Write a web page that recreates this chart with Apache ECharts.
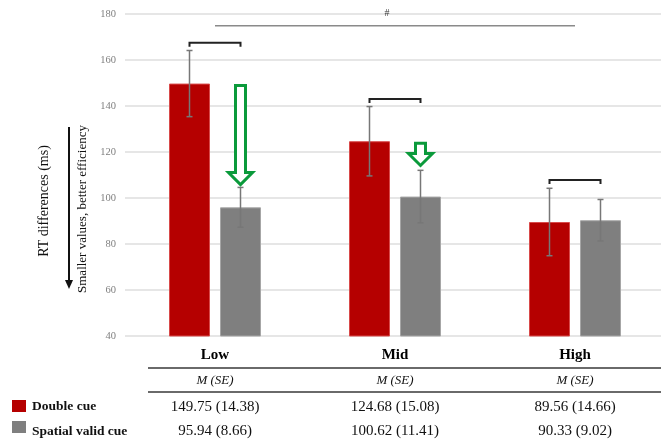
<!DOCTYPE html>
<html><head><meta charset="utf-8">
<script src="https://cdn.jsdelivr.net/npm/echarts@6/dist/echarts.min.js"></script>
<style>html,body{margin:0;padding:0;background:#fff}#c{width:661px;height:443px}</style>
</head><body><div id="c"></div>
<script>
// ---- data ----
const categories = ['Low', 'Mid', 'High'];
const seriesNames = ['Double cue', 'Spatial valid cue'];
const doubleMean = [149.75, 124.68, 89.56];
const doubleSE = [14.38, 15.08, 14.66];
const spatialMean = [95.94, 100.62, 90.33];
const spatialSE = [8.66, 11.41, 9.02];
const bracketValue = [167.5, 143, 107.8];
const overallLineValue = 174.9;
const overallLabel = '#';
const arrowCategory = [0, 1];
const arrowFrom = [149.6, 124.5];
const arrowTo = [105.2, 113.5];
const yMin = 40, yMax = 180, yInterval = 20;
const yTitle = 'RT differences (ms)';
const yNote = 'Smaller values, better efficiency';
const statHeader = 'M (SE)';

// ---- styles ----
const RED = '#b50000', GRAY = '#7f7f7f', GREEN = '#0b9a3b';
const SERIF = 'Liberation Serif';
const BAR_W = 41, HALF_OFF = 25.5;

const chart = echarts.init(document.getElementById('c'), null, {renderer: 'canvas'});

function errorRender(offset) {
  return function (params, api) {
    const top = api.coord([api.value(0), api.value(2)]);
    const bot = api.coord([api.value(0), api.value(1)]);
    const x = top[0] + offset;
    const st = {stroke: '#777', lineWidth: 1.5};
    return {type: 'group', children: [
      {type: 'line', shape: {x1: x, y1: top[1], x2: x, y2: bot[1]}, style: st},
      {type: 'line', shape: {x1: x - 3, y1: top[1], x2: x + 3, y2: top[1]}, style: st},
      {type: 'line', shape: {x1: x - 3, y1: bot[1], x2: x + 3, y2: bot[1]}, style: st}
    ]};
  };
}

const option = {
  animation: false,
  backgroundColor: '#fff',
  grid: {left: 125, right: -4, top: 14, bottom: 107, containLabel: false, outerBoundsMode: 'none'},
  xAxis: {
    type: 'category', data: categories,
    axisLine: {show: false}, axisTick: {show: false},
    axisLabel: {fontFamily: SERIF, fontSize: 15, fontWeight: 'bold', color: '#000', margin: 12}
  },
  yAxis: {
    type: 'value', min: yMin, max: yMax, interval: yInterval,
    axisLine: {show: false}, axisTick: {show: false},
    axisLabel: {fontFamily: SERIF, fontSize: 10.5, color: '#7f7f7f', margin: 9},
    splitLine: {lineStyle: {color: '#e6e6e6', width: 2}}
  },
  series: [
    {name: seriesNames[0], type: 'bar', data: doubleMean, barWidth: BAR_W, barGap: (10 / BAR_W * 100) + '%',
     itemStyle: {color: RED, borderColor: '#d84a4a', borderWidth: 1}},
    {name: seriesNames[1], type: 'bar', data: spatialMean, barWidth: BAR_W,
     itemStyle: {color: GRAY, borderColor: '#a6a6a6', borderWidth: 1}},
    {type: 'custom', z: 5, renderItem: errorRender(-HALF_OFF),
     data: doubleMean.map((m, i) => [i, m - doubleSE[i], m + doubleSE[i]])},
    {type: 'custom', z: 5, renderItem: errorRender(HALF_OFF),
     data: spatialMean.map((m, i) => [i, m - spatialSE[i], m + spatialSE[i]])},
    // brackets
    {type: 'custom', z: 6,
     data: bracketValue.map((v, i) => [i, v]),
     renderItem: function (params, api) {
       const p = api.coord([api.value(0), api.value(1)]);
       const x1 = p[0] - HALF_OFF, x2 = p[0] + HALF_OFF, y = p[1];
       return {type: 'polyline', shape: {points: [[x1, y + 4], [x1, y], [x2, y], [x2, y + 4]]},
               style: {stroke: '#222', lineWidth: 2, fill: null}};
     }},
    // overall line with '#'
    {type: 'custom', z: 6,
     data: [[0, categories.length - 1, overallLineValue]],
     renderItem: function (params, api) {
       const a = api.coord([api.value(0), api.value(2)]);
       const b = api.coord([api.value(1), api.value(2)]);
       return {type: 'group', children: [
         {type: 'line', shape: {x1: a[0], y1: a[1], x2: b[0], y2: b[1]}, style: {stroke: '#8a8a8a', lineWidth: 1.5}},
         {type: 'text', x: (a[0] + b[0]) / 2 - 8, y: a[1] - 12,
          style: {text: overallLabel, fontFamily: SERIF, fontSize: 10, fill: '#333', align: 'center', verticalAlign: 'middle'}}
       ]};
     }},
    // green arrows
    {type: 'custom', z: 7,
     data: arrowCategory.map((c, k) => [c, arrowFrom[k], arrowTo[k]]),
     renderItem: function (params, api) {
       const t = api.coord([api.value(0), api.value(1)]);
       const b = api.coord([api.value(0), api.value(2)]);
       const cx = t[0] + HALF_OFF;
       const sw = 5, hw = 12, hh = 12;
       const y0 = t[1] + 1.5, yt = b[1] - 1.5, yh = yt - hh;
       return {type: 'polygon',
               shape: {points: [[cx - sw, y0], [cx + sw, y0], [cx + sw, yh], [cx + hw, yh], [cx, yt], [cx - hw, yh], [cx - sw, yh]]},
               style: {fill: '#fff', stroke: GREEN, lineWidth: 3, lineJoin: 'miter'}};
     }}
  ]
};
chart.setOption(option);

// ---- table, legend and y-axis titles ----
const xs = categories.map((c, i) => chart.convertToPixel({xAxisIndex: 0}, i));
const fmt = (m, s) => m.toFixed(2) + ' (' + s.toFixed(2) + ')';
const g = [];
const lineSt = {stroke: '#6a6a6a', lineWidth: 2};
g.push({type: 'line', shape: {x1: 148, y1: 368, x2: 661, y2: 368}, style: lineSt});
g.push({type: 'line', shape: {x1: 148, y1: 392, x2: 661, y2: 392}, style: lineSt});
xs.forEach((x, i) => {
  g.push({type: 'text', x: x, y: 381, style: {text: statHeader, fontFamily: SERIF, fontSize: 13, fontStyle: 'italic', fill: '#111', align: 'center', verticalAlign: 'middle'}});
  g.push({type: 'text', x: x, y: 407, style: {text: fmt(doubleMean[i], doubleSE[i]), fontFamily: SERIF, fontSize: 15, fill: '#111', align: 'center', verticalAlign: 'middle'}});
  g.push({type: 'text', x: x, y: 431, style: {text: fmt(spatialMean[i], spatialSE[i]), fontFamily: SERIF, fontSize: 15, fill: '#111', align: 'center', verticalAlign: 'middle'}});
});
g.push({type: 'rect', shape: {x: 12, y: 400, width: 14, height: 12}, style: {fill: RED}});
g.push({type: 'rect', shape: {x: 12, y: 421, width: 14, height: 12}, style: {fill: GRAY}});
g.push({type: 'text', x: 32, y: 407, style: {text: seriesNames[0], fontFamily: SERIF, fontSize: 13.5, fontWeight: 'bold', fill: '#111', align: 'left', verticalAlign: 'middle'}});
g.push({type: 'text', x: 32, y: 432, style: {text: seriesNames[1], fontFamily: SERIF, fontSize: 13.5, fontWeight: 'bold', fill: '#111', align: 'left', verticalAlign: 'middle'}});
g.push({type: 'text', x: 44, y: 201, rotation: Math.PI / 2, style: {text: yTitle, fontFamily: SERIF, fontSize: 14, fill: '#111', align: 'center', verticalAlign: 'middle'}});
g.push({type: 'text', x: 83, y: 209, rotation: Math.PI / 2, style: {text: yNote, fontFamily: SERIF, fontSize: 13, fill: '#111', align: 'center', verticalAlign: 'middle'}});
g.push({type: 'line', shape: {x1: 69, y1: 127, x2: 69, y2: 282}, style: {stroke: '#111', lineWidth: 2}});
g.push({type: 'polygon', shape: {points: [[65, 280], [73, 280], [69, 289]]}, style: {fill: '#111'}});
chart.setOption({graphic: {elements: g}});
</script>
</body></html>
